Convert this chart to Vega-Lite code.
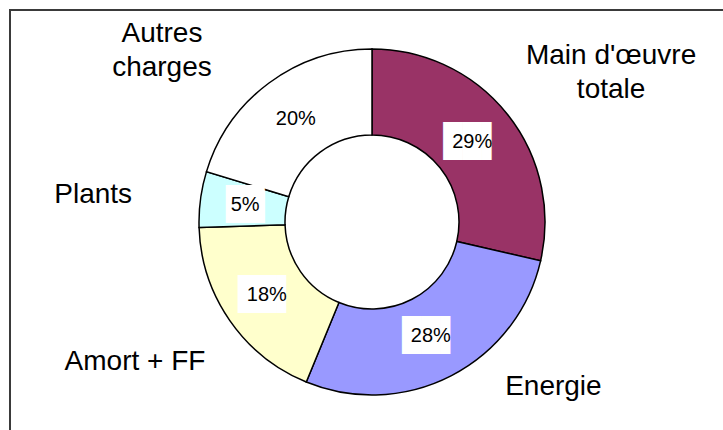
{
  "$schema": "https://vega.github.io/schema/vega-lite/v6.json",
  "autosize": {"type": "none"},
  "padding": {"left": 10, "top": 10, "right": 0, "bottom": 0},
  "width": 724,
  "height": 424,
  "background": "white",
  "view": {"stroke": "#3a3a3a", "strokeWidth": 2, "fill": "white"},
  "data": {
    "values": [
      {"ord": 1, "name": "Main d'œuvre\ntotale", "share": 0.286},
      {"ord": 2, "name": "Energie", "share": 0.276},
      {"ord": 3, "name": "Amort + FF", "share": 0.183},
      {"ord": 4, "name": "Plants", "share": 0.052},
      {"ord": 5, "name": "Autres\ncharges", "share": 0.203}
    ]
  },
  "encoding": {
    "theta": {"field": "share", "type": "quantitative", "stack": true, "scale": {"domain": [0, 1]}},
    "order": {"field": "ord", "type": "quantitative", "sort": "ascending"}
  },
  "layer": [
    {
      "mark": {"type": "arc", "radius": 173, "radius2": 87, "stroke": "black", "strokeWidth": 1.5},
      "encoding": {
        "color": {
          "field": "name", "type": "nominal", "legend": null,
          "scale": {
            "domain": ["Main d'œuvre\ntotale", "Energie", "Amort + FF", "Plants", "Autres\ncharges"],
            "range": ["#993366", "#9999FF", "#FFFFCC", "#CCFFFF", "#FFFFFF"]
          }
        }
      }
    },
    {
      "mark": {"type": "text", "radius": 128, "font": "DejaVu Sans Mono", "fontSize": 32, "color": "white", "baseline": "middle", "align": "center"},
      "encoding": {
        "text": {"condition": {"test": "datum.share < 0.1", "value": "██"}, "value": "██▌"}
      }
    },
    {
      "mark": {"type": "text", "radius": 128, "font": "Liberation Sans", "fontSize": 20, "color": "black", "baseline": "middle", "align": "center"},
      "encoding": {
        "text": {"field": "share", "type": "quantitative", "format": ".0%"}
      }
    },
    {
      "mark": {"type": "text", "radius": 289, "dx": 13, "font": "Liberation Sans", "fontSize": 28, "lineHeight": 34, "lineBreak": "\n", "color": "black", "align": "center", "baseline": "top"},
      "encoding": {"text": {"condition": {"test": "datum.ord == 1", "field": "name"}, "value": ""}}
    },
    {
      "mark": {"type": "text", "radius": 170, "dx": 55, "font": "Liberation Sans", "fontSize": 28, "lineHeight": 34, "lineBreak": "\n", "color": "black", "align": "left", "baseline": "top"},
      "encoding": {"text": {"condition": {"test": "datum.ord == 2", "field": "name"}, "value": ""}}
    },
    {
      "mark": {"type": "text", "radius": 221, "dx": 15, "font": "Liberation Sans", "fontSize": 28, "lineHeight": 34, "lineBreak": "\n", "color": "black", "align": "right", "baseline": "top"},
      "encoding": {"text": {"condition": {"test": "datum.ord == 3", "field": "name"}, "value": ""}}
    },
    {
      "mark": {"type": "text", "radius": 242, "dy": -9, "font": "Liberation Sans", "fontSize": 28, "lineHeight": 34, "lineBreak": "\n", "color": "black", "align": "right", "baseline": "top"},
      "encoding": {"text": {"condition": {"test": "datum.ord == 4", "field": "name"}, "value": ""}}
    },
    {
      "mark": {"type": "text", "radius": 252, "dx": -60, "font": "Liberation Sans", "fontSize": 28, "lineHeight": 34, "lineBreak": "\n", "color": "black", "align": "center", "baseline": "top"},
      "encoding": {"text": {"condition": {"test": "datum.ord == 5", "field": "name"}, "value": ""}}
    }
  ]
}
